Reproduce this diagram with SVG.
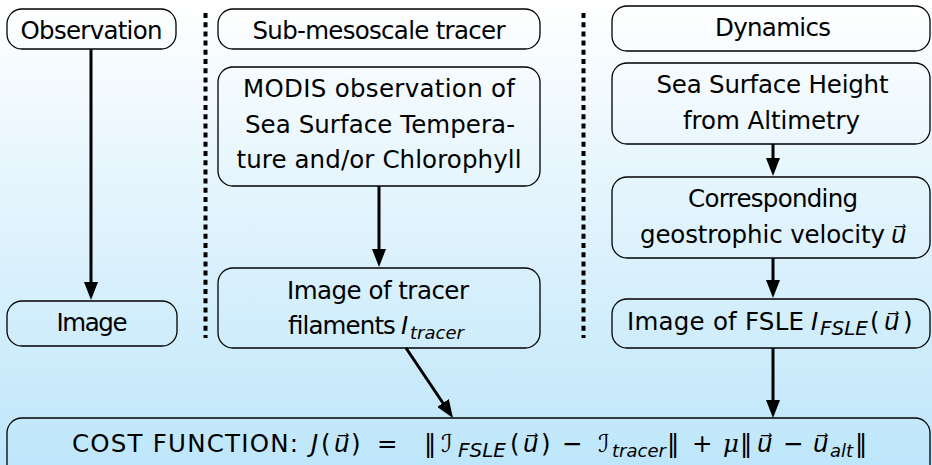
<svg xmlns="http://www.w3.org/2000/svg" width="932" height="465" viewBox="0 0 932 465">
  <defs>
    <linearGradient id="bg" x1="0" y1="0" x2="0" y2="1">
      <stop offset="0" stop-color="#ffffff"/>
      <stop offset="1" stop-color="#bee6fa"/>
    </linearGradient>
    <marker id="head" viewBox="0 0 18 14" refX="6" refY="7" markerWidth="18" markerHeight="14" markerUnits="userSpaceOnUse" orient="auto">
      <path d="M0,0 L18,7 L0,14 Z" fill="#000"/>
    </marker>
    <style>
      .box { fill: none; stroke: #000; stroke-width: 1.3; }
      .lbl { font-family: "DejaVu Sans", "Liberation Sans", sans-serif; font-size: 24.5px; fill: #000; text-anchor: middle; }
      .math { font-family: "DejaVu Sans", "Liberation Sans", sans-serif; font-size: 24.5px; fill: #000; }
      .it { font-style: italic; }
      .sub { font-size: 18px; font-style: italic; }
      .subcap { font-size: 20px; font-style: italic; }
      .greek { font-family: "DejaVu Serif", "Liberation Serif", serif; font-style: italic; }
      .sep { fill: none; stroke: #000; stroke-width: 4; stroke-dasharray: 5 4.2; }
      .arr { fill: none; stroke: #000; stroke-width: 3; marker-end: url(#head); }
    </style>
  </defs>

  <rect x="0" y="0" width="932" height="465" fill="url(#bg)"/>

  <!-- column separators -->
  <g id="separators">
    <line class="sep" x1="205.5" y1="13" x2="205.5" y2="338"/>
    <line class="sep" x1="583.5" y1="13" x2="583.5" y2="338"/>
  </g>

  <!-- observation column -->
  <g id="observation">
    <rect class="box" x="7" y="9" width="169" height="40" rx="15"/>
    <text class="lbl" x="91.5" y="39" textLength="142" lengthAdjust="spacing">Observation</text>
  </g>
  <g id="image">
    <rect class="box" x="7" y="301" width="170" height="45" rx="15"/>
    <text class="lbl" x="92" y="331" textLength="71" lengthAdjust="spacing">Image</text>
  </g>

  <!-- tracer column -->
  <g id="tracer-title">
    <rect class="box" x="218" y="9" width="322" height="40" rx="15"/>
    <text class="lbl" x="379" y="39" textLength="253" lengthAdjust="spacing">Sub-mesoscale tracer</text>
  </g>
  <g id="modis">
    <rect class="box" x="218" y="67" width="322" height="119" rx="15"/>
    <text class="lbl" x="379" y="97" textLength="272" lengthAdjust="spacing">MODIS observation of</text>
    <text class="lbl" x="380" y="133" textLength="270" lengthAdjust="spacing">Sea Surface Tempera-</text>
    <text class="lbl" x="379" y="168" textLength="285" lengthAdjust="spacing">ture and/or Chlorophyll</text>
  </g>
  <g id="tracer-image">
    <rect class="box" x="218" y="268" width="322" height="80" rx="15"/>
    <text class="lbl" x="378" y="299" textLength="182" lengthAdjust="spacing">Image of tracer</text>
    <text class="math" y="334"><tspan x="287" textLength="108" lengthAdjust="spacing">filaments</tspan><tspan class="it" x="401">I</tspan><tspan class="sub" x="410" dy="5">tracer</tspan></text>
  </g>

  <!-- dynamics column -->
  <g id="dynamics-title">
    <rect class="box" x="612" y="6" width="318" height="45" rx="15"/>
    <text class="lbl" x="773" y="36" textLength="116" lengthAdjust="spacing">Dynamics</text>
  </g>
  <g id="ssh">
    <rect class="box" x="612" y="63" width="318" height="81" rx="15"/>
    <text class="lbl" x="772.5" y="93" textLength="232" lengthAdjust="spacing">Sea Surface Height</text>
    <text class="lbl" x="771.5" y="129" textLength="177" lengthAdjust="spacing">from Altimetry</text>
  </g>
  <g id="velocity">
    <rect class="box" x="612" y="177" width="318" height="81" rx="15"/>
    <text class="lbl" x="773" y="207" textLength="170" lengthAdjust="spacing">Corresponding</text>
    <text class="math" y="243"><tspan x="640" textLength="245" lengthAdjust="spacing">geostrophic velocity</tspan><tspan class="it" x="891">u⃗</tspan></text>
  </g>
  <g id="fsle">
    <rect class="box" x="612" y="299" width="318" height="49" rx="15"/>
    <text class="math" y="330"><tspan x="627" textLength="177" lengthAdjust="spacing">Image of FSLE</tspan><tspan class="it" x="811">I</tspan><tspan class="subcap" x="820" dy="5">FSLE</tspan><tspan x="870" dy="-5">(</tspan><tspan class="it" x="884">u⃗</tspan><tspan x="903">)</tspan></text>
  </g>

  <!-- cost function -->
  <g id="cost">
    <rect class="box" x="7" y="418" width="923" height="70" rx="15"/>
    <text class="math" y="452"><tspan x="72" textLength="226" lengthAdjust="spacing">COST FUNCTION:</tspan><tspan class="it" x="311">J</tspan><tspan x="321">(</tspan><tspan class="it" x="334">u⃗</tspan><tspan x="351">)</tspan><tspan x="377">=</tspan><tspan x="424">‖</tspan><tspan x="441">ℐ</tspan><tspan class="subcap" x="458" dy="5">FSLE</tspan><tspan x="510" dy="-5">(</tspan><tspan class="it" x="523">u⃗</tspan><tspan x="541">)</tspan><tspan x="562">−</tspan><tspan x="598">ℐ</tspan><tspan class="sub" x="612" dy="5">tracer</tspan><tspan x="667" dy="-5">‖</tspan><tspan x="692">+</tspan><tspan class="greek" x="723">μ</tspan><tspan x="740">‖</tspan><tspan class="it" x="757">u⃗</tspan><tspan x="783">−</tspan><tspan class="it" x="813">u⃗</tspan><tspan class="sub" x="830" dy="5">alt</tspan><tspan x="855" dy="-5">‖</tspan></text>
  </g>

  <!-- connectors -->
  <g id="connectors">
    <line class="arr" x1="91" y1="49" x2="91" y2="288"/>
    <line class="arr" x1="379" y1="186" x2="379" y2="255"/>
    <line class="arr" x1="406" y1="348" x2="446.3" y2="408"/>
    <line class="arr" x1="773" y1="144" x2="773" y2="164"/>
    <line class="arr" x1="773" y1="258" x2="773" y2="286"/>
    <line class="arr" x1="773" y1="348" x2="773" y2="406"/>
  </g>
</svg>
